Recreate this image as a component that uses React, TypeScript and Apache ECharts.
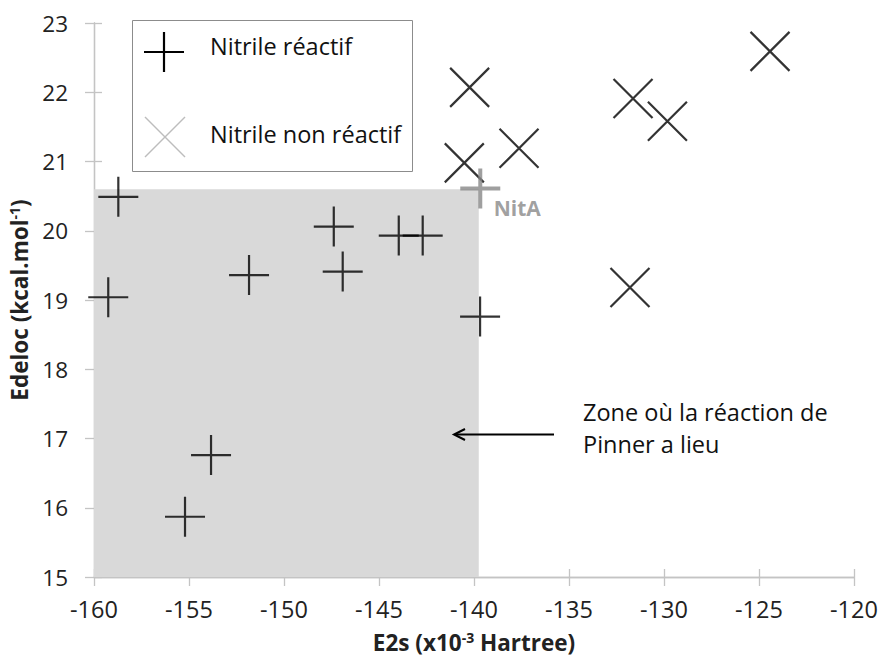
import React, { useEffect, useRef } from "react";
import * as echarts from "echarts";

// Data
const reactifX = [-159.25, -158.72, -155.21, -153.84, -151.84, -147.38, -146.91, -143.96, -142.7, -139.68];
const reactifY = [19.04, 20.49, 15.87, 16.76, 19.36, 20.06, 19.41, 19.93, 19.93, 18.76];
const nonReactifX = [-140.23, -140.51, -137.63, -131.63, -129.82, -124.42, -131.79];
const nonReactifY = [22.07, 20.98, 21.19, 21.91, 21.58, 22.59, 19.18];
const nitAX = [-139.67];
const nitAY = [20.61];
const nitALabel = "NitA";
const zoneX = [-160, -139.75];
const zoneY = [15, 20.6];
const xTicks = { min: -160, max: -120, interval: 5 };
const yTicks = { min: 15, max: 23, interval: 1 };
const legendNames = ["Nitrile réactif", "Nitrile non réactif"];
const annotation = "Zone où la réaction de\nPinner a lieu";

const FONT = "'Open Sans', 'Noto Sans', sans-serif";
const PLUS = "path://M20,0 L20,40 M0,20 L40,20";
const CROSS = "path://M0,0 L40,40 M40,0 L0,40";

export default function App() {
  const ref = useRef<HTMLDivElement>(null);
  useEffect(() => {
    if (!ref.current) return;
    const chart = echarts.init(ref.current, null, { renderer: "svg" });
    const zip = (xs: number[], ys: number[]) => xs.map((x, i) => [x, ys[i]]);
    const axisCommon = {
      axisLine: { show: true, lineStyle: { color: "#c4c4c4", width: 1.3 } },
      splitLine: { show: false },
    };
    const titleRich = {
      a: { fontSize: 22.5, fontWeight: "bold", fontFamily: FONT, color: "#222" },
      s: { fontSize: 14, fontWeight: "bold", fontFamily: FONT, color: "#222", verticalAlign: "top", padding: [0, 0, 10, 0] },
    };
    chart.setOption({
      animation: false,
      backgroundColor: "#fff",
      grid: { left: 94, right: 27, top: 23, bottom: 82, containLabel: false, outerBoundsMode: "none" },
      xAxis: [
        {
          type: "value",
          ...xTicks,
          ...axisCommon,
          axisTick: { show: true, length: 9, lineStyle: { color: "#c4c4c4", width: 1.3 } },
          axisLabel: { fontSize: 23.5, fontFamily: FONT, color: "#222", margin: 20 },
          name: "{a|E2s (x10}{s|-3}{a| Hartree)}",
          nameLocation: "middle",
          nameGap: 53,
          nameTextStyle: { rich: titleRich },
        },
        {
          type: "value",
          ...xTicks,
          ...axisCommon,
          position: "bottom",
          axisTick: { show: true, inside: true, length: 8, lineStyle: { color: "#c4c4c4", width: 1.3 } },
          axisLabel: { show: false },
        },
      ],
      yAxis: [
        {
          type: "value",
          ...yTicks,
          ...axisCommon,
          axisTick: { show: true, length: 9, lineStyle: { color: "#c4c4c4", width: 1.3 } },
          axisLabel: { fontSize: 22.5, fontFamily: FONT, color: "#222", margin: 26 },
          name: "{a|Edeloc (kcal.mol}{s|-1}{a|)}",
          nameLocation: "middle",
          nameGap: 51,
          nameTextStyle: { rich: titleRich },
        },
        {
          type: "value",
          ...yTicks,
          ...axisCommon,
          position: "left",
          axisTick: { show: true, inside: true, length: 8, lineStyle: { color: "#c4c4c4", width: 1.3 } },
          axisLabel: { show: false },
        },
      ],
      series: [
        {
          name: legendNames[0],
          type: "scatter",
          symbol: PLUS,
          symbolSize: 40,
          itemStyle: { color: "none", borderColor: "#000", borderWidth: 2.2 },
          data: zip(reactifX, reactifY),
          z: 3,
          markArea: {
            silent: true,
            z: 1,
            itemStyle: { color: "#d9d9d9", opacity: 1 },
            data: [[{ coord: [zoneX[0], zoneY[0]] }, { coord: [zoneX[1], zoneY[1]] }]],
          },
        },
        {
          name: legendNames[1],
          type: "scatter",
          symbol: CROSS,
          symbolSize: 39,
          itemStyle: { color: "none", borderColor: "#000", borderWidth: 2.2 },
          data: zip(nonReactifX, nonReactifY),
          z: 3,
        },
        {
          name: nitALabel,
          type: "scatter",
          symbol: PLUS,
          symbolSize: 40,
          itemStyle: { color: "none", borderColor: "#878787", borderWidth: 4 },
          data: zip(nitAX, nitAY),
          z: 4,
          label: {
            show: true,
            formatter: nitALabel,
            position: [36, 42],
            align: "left",
            verticalAlign: "middle",
            fontSize: 21,
            fontWeight: "bold",
            fontFamily: FONT,
            color: "#878787",
          },
        },
      ],
      graphic: [
        {
          type: "rect",
          shape: { x: 132.5, y: 20.5, width: 280, height: 151 },
          style: { fill: "#fff", stroke: "#8c8c8c", lineWidth: 1 },
          z: 10,
        },
        { type: "line", shape: { x1: 144, y1: 52, x2: 184, y2: 52 }, style: { stroke: "#000", lineWidth: 2.2 }, z: 11 },
        { type: "line", shape: { x1: 164, y1: 32, x2: 164, y2: 72 }, style: { stroke: "#000", lineWidth: 2.2 }, z: 11 },
        { type: "line", shape: { x1: 145, y1: 117, x2: 185, y2: 157 }, style: { stroke: "#bdbdbd", lineWidth: 1.5 }, z: 11 },
        { type: "line", shape: { x1: 185, y1: 117, x2: 145, y2: 157 }, style: { stroke: "#bdbdbd", lineWidth: 1.5 }, z: 11 },
        {
          type: "text",
          x: 210,
          y: 46,
          style: { text: legendNames[0], font: `23.5px ${FONT}`, fill: "#111", verticalAlign: "middle" },
          z: 11,
        },
        {
          type: "text",
          x: 210,
          y: 134,
          style: { text: legendNames[1], font: `23.5px ${FONT}`, fill: "#111", verticalAlign: "middle" },
          z: 11,
        },
        {
          type: "polyline",
          shape: { points: [[554, 434.5], [455, 434.5]] },
          style: { stroke: "#000", lineWidth: 2, fill: "none" },
          z: 11,
        },
        {
          type: "polyline",
          shape: { points: [[465, 429], [454, 434.5], [465, 440]] },
          style: { stroke: "#000", lineWidth: 2, fill: "none" },
          z: 11,
        },
        {
          type: "text",
          x: 583,
          y: 396,
          style: { text: annotation, font: `23.5px ${FONT}`, fill: "#111", lineHeight: 32, verticalAlign: "top" },
          z: 11,
        },
      ],
    });
    return () => chart.dispose();
  }, []);
  return <div ref={ref} style={{ width: 881, height: 659, position: "absolute", left: 0, top: 0 }} />;
}
